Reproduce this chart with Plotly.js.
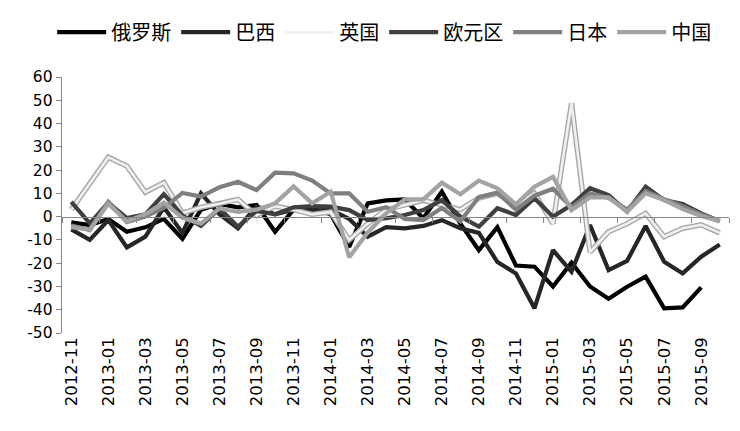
<!DOCTYPE html>
<html>
<head>
<meta charset="utf-8">
<script src="https://cdn.plot.ly/plotly-3.0.1.min.js"></script>
<style>
html,body{margin:0;padding:0;background:#fff;}
#chart{width:740px;height:431px;}
</style>
</head>
<body>
<div id="chart"></div>
<script>
const months = ['2012-11','2012-12','2013-01','2013-02','2013-03','2013-04','2013-05','2013-06','2013-07','2013-08','2013-09','2013-10',
  '2013-11','2013-12','2014-01','2014-02','2014-03','2014-04','2014-05','2014-06','2014-07','2014-08','2014-09','2014-10',
  '2014-11','2014-12','2015-01','2015-02','2015-03','2015-04','2015-05','2015-06','2015-07','2015-08','2015-09','2015-10'];

const seriesNames = ['俄罗斯','巴西','英国','欧元区','日本','中国'];

const russia = [-2.5,-3.6,-1,-6.5,-4.6,-1,-9.5,3,5.5,4,5,-6.5,3,3.5,1,-13,5.7,7,7.4,-0.7,10.7,-3,-14.4,-4.5,-21,-21.5,-30,-19.8,-30,-35.3,-30.1,-25.8,-39.4,-39,-30.4,null];
const brazil = [-5.5,-10,-1.5,-13.2,-8.6,4,-7,10,1,-5,4.5,1,3,2.5,3,-1,-8.6,-4.5,-5,-4,-1.5,-5,-7,-19.5,-24.4,-39.4,-14.4,-23.7,-3.6,-23,-19,-4,-19.4,-24.4,-17.2,-12];
const uk = [3,14,25.5,21.7,10.5,14.6,1.5,4,5.5,7.4,0.5,4.5,3,1,2,-10,-3,3,5,7,5,3,8,10,5,10,-3,48.7,-15.3,-6.5,-3,1.4,-8.6,-5,-3.5,-7];
const euro = [6.3,-2.9,6,-0.6,1,9.7,0.5,-4,3.5,-4.3,2.5,1,4,4.5,4.3,2.8,-1.5,-0.7,0.7,2.8,7.1,0,-4.3,3.6,0.7,7.9,0,5,12.2,9.3,2.1,12.9,7.1,5.4,1.4,-2];
const japan = [-3.8,-5.8,6.3,-2.4,0,3.8,10.2,8.6,12.6,15,11.4,18.9,18.6,15.5,10,10,2.1,4,-1,-1.5,3.7,-2,8.4,10.3,3,9,12,4,10,8,3,11,7.5,4.5,1,-2];
const china = [-4.5,-5.5,5.5,-2,1,6,-0.5,-3,3.5,2,3,5.7,13,5.7,10.7,-17.5,-6.8,1.4,7.4,7.4,14.6,9.6,15.5,12.2,5.3,12.9,17.1,2.8,8.3,8.3,2.1,10,7.1,3.2,0.3,-2];

const yTicks = [-50,-40,-30,-20,-10,0,10,20,30,40,50,60];
const yTickText = yTicks.map(v => String(v));
const xTickLabels = months.filter((m, i) => i % 2 === 0);

const colors = ['#000000','#262626','#f0f0f0','#3f3f3f','#7f7f7f','#a3a3a3'];
const W = 4.2;

function lineTrace(name, y, color, width, showlegend) {
  return {
    type: 'scatter', mode: 'lines', name: name, x: months, y: y,
    line: {color: color, width: width},
    showlegend: showlegend, hoverinfo: 'skip', connectgaps: false
  };
}

const traces = [
  lineTrace(seriesNames[0], russia, colors[0], W, true),
  lineTrace(seriesNames[1], brazil, colors[1], W, true),
  lineTrace(seriesNames[2] + '_outline', uk, '#a8a8a8', W + 1.2, false),
  lineTrace(seriesNames[2], uk, colors[2], W - 1.6, true),
  lineTrace(seriesNames[3], euro, colors[3], W, true),
  lineTrace(seriesNames[4], japan, colors[4], W, true),
  lineTrace(seriesNames[5], china, colors[5], W, true),
  {type:'scatter', mode:'lines', x:[-0.5, 35.5], y:[null, null], xaxis:'x2', showlegend:false, hoverinfo:'skip'}
];

const boundaryTicks = [];
for (let k = 0; k <= months.length; k += 2) boundaryTicks.push(k - 0.5);

const layout = {
  width: 740, height: 431,
  margin: {l: 62, r: 11, t: 77, b: 98, autoexpand: false},
  paper_bgcolor: '#ffffff', plot_bgcolor: '#ffffff',
  font: {family: '"DejaVu Sans", sans-serif', color: '#000', size: 15},
  showlegend: true,
  legend: {
    orientation: 'h', x: 0.483, xanchor: 'center', y: 1.175, yanchor: 'middle',
    font: {family: '"Noto Sans CJK SC", sans-serif', size: 20, color: '#000'},
    itemwidth: 49, tracegroupgap: 0, traceorder: 'normal'
  },
  xaxis: {
    type: 'category', range: [-0.5, months.length - 0.5],
    tickmode: 'array', tickvals: xTickLabels, ticktext: xTickLabels,
    tickangle: -90, ticks: '', showline: false, showgrid: false, zeroline: false,
    tickfont: {size: 16.5, family: '"DejaVu Sans", sans-serif'}, fixedrange: true
  },
  xaxis2: {
    type: 'linear', overlaying: 'x', anchor: 'free', position: 50 / 110,
    range: [-0.5, months.length - 0.5],
    tickmode: 'array', tickvals: boundaryTicks, showticklabels: false,
    ticks: 'outside', ticklen: 5, tickcolor: '#868686', tickwidth: 1,
    showline: true, linecolor: '#868686', linewidth: 1.3, showgrid: false, zeroline: false, fixedrange: true
  },
  yaxis: {
    range: [-50, 60], tickmode: 'array', tickvals: yTicks, ticktext: yTickText,
    ticks: 'outside', ticklen: 5, tickcolor: '#868686', tickwidth: 1,
    showline: true, linecolor: '#868686', linewidth: 1.3, showgrid: false, zeroline: false,
    tickfont: {size: 15.5, family: '"DejaVu Sans", sans-serif'}, fixedrange: true
  }
};

Plotly.newPlot('chart', traces, layout, {staticPlot: true, displayModeBar: false});
</script>
</body>
</html>
